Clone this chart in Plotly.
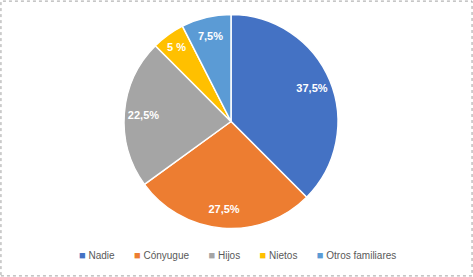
import plotly.graph_objects as go

categories = ["Nadie", "Cónyugue", "Hijos", "Nietos", "Otros familiares"]
values = [37.5, 27.5, 22.5, 5, 7.5]
labels_text = ["37,5%", "27,5%", "22,5%", "5 %", "7,5%"]
colors = ["#4472C4", "#ED7D31", "#A5A5A5", "#FFC000", "#5B9BD5"]

W, H = 473, 277
dom = dict(x=[124/W, 338/W], y=[1-229/H, 1-14/H])

# base pie: slices, white separators
base = go.Pie(
    labels=categories, values=values, textinfo="none",
    sort=False, direction="clockwise", rotation=0,
    marker=dict(colors=colors, line=dict(color="white", width=1.5)),
    domain=dom, showlegend=False, hoverinfo="label+percent",
)
# transparent ring carrying the labels near the rim
ring = go.Pie(
    labels=categories, values=values, text=labels_text,
    textinfo="text", textposition="inside", insidetextorientation="horizontal",
    sort=False, direction="clockwise", rotation=0, hole=0.64,
    marker=dict(colors=["rgba(0,0,0,0)"]*len(values), line=dict(width=0)),
    textfont=dict(family="Liberation Sans", size=11, color="white", weight="bold"),
    domain=dom, showlegend=False, hoverinfo="skip",
)
fig = go.Figure([base, ring])

gap = "&nbsp;" * 7
legend_text = gap.join(
    f"<span style='color:{c};font-size:11px'>■</span>&nbsp;{n}" for n, c in zip(categories, colors)
)
fig.update_layout(
    width=W, height=H, margin=dict(l=0, r=0, t=0, b=0),
    paper_bgcolor="white", plot_bgcolor="white",
    annotations=[dict(text=legend_text, x=237/W, y=1-255/H, xref="paper", yref="paper",
                      xanchor="center", yanchor="middle", showarrow=False,
                      font=dict(family="Liberation Sans", size=10, color="#595959"))],
    shapes=[dict(type="rect", xref="paper", yref="paper", x0=0.002, y0=0.004, x1=0.998, y1=0.996,
                 line=dict(color="#A0A0A0", width=1, dash="dot"))],
)
fig.write_html("out.html")
